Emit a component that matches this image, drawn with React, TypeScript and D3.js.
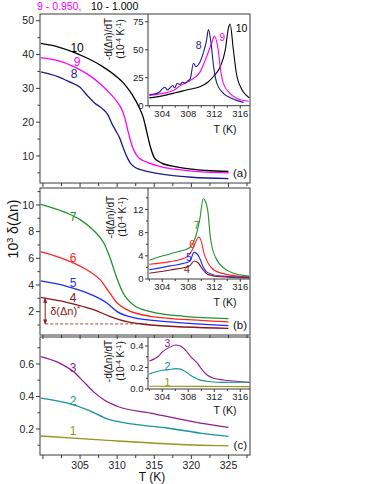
import * as d3 from 'd3';

type Pt = [number, number];

// legend line at the top (partly cut off in the figure)
const legendText = ['9 - 0.950,', '10 - 1.000'];
const legendColors = ['#ff00ff', '#000000'];

const xTickLabels = [305, 310, 315, 320, 325];
const insetTickLabels = [304, 308, 312, 316];

// panel (a): 10^3 delta(dn) vs T
const a10: Pt[] = [[299.7, 43.3], [302, 42.3], [304, 40.8], [306, 38.9], [308, 36.5], [310, 33.3], [311, 31.2], [312, 28.2], [313, 24.2], [313.5, 21.5], [314, 17], [314.5, 12.5], [315, 9.5], [315.5, 8.5], [316, 7.9], [318, 6.8], [320, 6.1], [322, 5.7], [325, 5.4]];
const a9: Pt[] = [[299.7, 39.1], [302, 38.2], [304, 36.6], [306, 34.2], [308, 30.8], [309, 28.6], [310, 26], [310.5, 24.3], [311, 21.5], [311.5, 17], [312, 13], [312.5, 10.6], [313, 9.3], [314, 8.2], [316, 6.8], [318, 6], [320, 5.5], [322, 5.2], [325, 5.0]];
const a8: Pt[] = [[299.7, 34.9], [302, 33.5], [303.5, 32], [305, 30.3], [306, 27.8], [307, 25.6], [308, 24], [308.8, 22], [309.3, 19.5], [309.8, 17.5], [310.3, 15.5], [310.8, 12.5], [311.3, 9.8], [311.8, 7.8], [312.5, 6.5], [313.5, 5.7], [315, 5], [317, 4.3], [320, 3.7], [325, 3.3]];

// inset (a): -d(dn)/dT
const ia10: Pt[] = [[302, 7], [304, 8.8], [306, 11.5], [308, 14.5], [309.8, 17], [311, 21], [312, 27], [312.9, 34.6], [313.7, 50], [314.2, 70], [314.45, 73], [314.9, 52], [315.4, 29], [316.2, 15], [317, 9], [317.4, 7]];
const ia9: Pt[] = [[302, 9], [304, 11], [305.7, 13.5], [306.8, 18], [308.3, 22.6], [309.8, 30], [310.8, 43.6], [311.6, 56], [312, 62], [312.6, 50], [312.9, 35], [313.4, 20], [314.4, 11], [315.7, 6], [317.3, 4]];
const ia8: Pt[] = [[302, 10], [302.8, 10.5], [303.5, 12], [304, 15], [304.4, 16.5], [304.8, 14], [305.2, 16], [305.6, 18], [305.9, 16], [306.3, 20], [306.7, 19], [307.1, 21], [307.5, 20], [307.9, 22], [308.3, 24], [308.8, 38], [309.2, 35], [309.8, 39], [310.3, 47], [310.8, 58], [311.1, 68], [311.5, 56], [311.9, 35], [312.4, 20], [313.4, 11], [314.9, 6], [316.5, 3]];

// panel (b)
const b7: Pt[] = [[299.7, 10.05], [303.2, 9.4], [305, 8.9], [306.8, 8.1], [308.2, 7.15], [309, 6.1], [309.9, 4.6], [310.8, 3.4], [312.2, 2.5], [314.5, 2.0], [319, 1.65], [325, 1.48]];
const b6: Pt[] = [[299.7, 6.5], [303.2, 5.86], [306, 5.1], [307.7, 4.4], [309, 3.4], [310, 2.65], [311.3, 2.15], [314.5, 1.65], [321.2, 1.35], [325, 1.24]];
const b5: Pt[] = [[299.7, 4.3], [303.2, 3.9], [306.4, 3.3], [308.6, 2.65], [310, 2.0], [312.2, 1.55], [316.7, 1.25], [325, 0.95]];
const b4: Pt[] = [[299.7, 3.07], [303.2, 2.7], [306.8, 2.15], [309, 1.65], [311.3, 1.25], [314.5, 1.0], [325, 0.75]];
const deltaStar = { t0: 300.3, t1: 314, top: 3.0, base: 1.08 };

// inset (b)
const ib7: Pt[] = [[302, 3.25], [304.1, 4], [306.1, 4.6], [308.2, 5.4], [309.1, 7.2], [309.8, 10.5], [310.3, 13.9], [310.6, 13.5], [311, 11.8], [311.4, 7.2], [312.2, 3.7], [313.7, 1.7], [315.2, 0.9], [317.4, 0.5]];
const ib6: Pt[] = [[302, 2.55], [305.2, 3.0], [307.6, 3.7], [308.6, 5], [309.1, 6.3], [309.6, 7.2], [310, 6.5], [310.4, 4.5], [310.8, 3.3], [311.5, 2.0], [312.8, 1.1], [317.4, 0.3]];
const ib5: Pt[] = [[302, 1.6], [305.2, 2.26], [308.2, 3.0], [308.9, 4.6], [309.3, 4.4], [309.8, 3.5], [310.2, 2.3], [311, 1.1], [313, 0.5], [317.4, 0.3]];
const ib4: Pt[] = [[302, 1.0], [305.2, 1.56], [308.2, 2.26], [308.9, 3.1], [309.5, 2.8], [310.2, 1.7], [311, 0.8], [313, 0.4], [317.4, 0.2]];

// panel (c)
const c3: Pt[] = [[299.7, 0.645], [302.3, 0.604], [304.1, 0.553], [305.5, 0.49], [306.8, 0.43], [308.2, 0.38], [310, 0.34], [314.5, 0.298], [321.2, 0.236], [325, 0.21]];
const c2: Pt[] = [[299.7, 0.39], [303.2, 0.36], [306, 0.318], [309, 0.257], [312.2, 0.23], [316.7, 0.206], [321.2, 0.175], [325, 0.155]];
const c1: Pt[] = [[299.7, 0.157], [307.7, 0.133], [321.2, 0.1], [325, 0.096]];

// inset (c)
const ic3: Pt[] = [[302, 0.26], [303.3, 0.3], [304.1, 0.35], [305.2, 0.39], [306, 0.41], [306.8, 0.4], [307.6, 0.36], [308.4, 0.3], [309.4, 0.24], [310.1, 0.18], [310.9, 0.13], [311.9, 0.1], [313.4, 0.084], [314.9, 0.074], [317.4, 0.06]];
const ic2: Pt[] = [[302, 0.14], [303.6, 0.17], [305, 0.18], [306.1, 0.19], [306.8, 0.185], [307.6, 0.16], [308.4, 0.125], [309.2, 0.1], [310, 0.08], [311.5, 0.068], [313, 0.062], [317.4, 0.065]];
const ic1: Pt[] = [[302, 0.025], [310, 0.024], [317.4, 0.022]];

const font = '"Liberation Sans", Arial, Helvetica, sans-serif';
const axisColor = '#3a3a3a';

const C = {
  black: '#000000', magenta: '#ff00ff', navy: '#1c1c8c',
  green: '#22922a', red: '#ff2424', blue: '#1f2bff', brown: '#8a1616',
  purple: '#901c90', teal: '#159595', olive: '#96961c',
};

const left = 40;
const right = 250;
const x = d3.scaleLinear().domain([299.6, 327.9]).range([left, right]);
const insetLeft = 148;
const xi = d3.scaleLinear().domain([301.8, 317.5]).range([insetLeft, right]);

type Series = { data: Pt[]; color: string; label: string; at: Pt };
type Panel = {
  name: string; top: number; bottom: number; domain: [number, number];
  ticks: number[]; minor: number[]; fmt: string; series: Series[];
  inset: { bottom: number; domain: [number, number]; ticks: number[]; minor: number[]; fmt: string; series: Series[]; titleY: number; titleX: number; tLabelY: number };
};

const panels: Panel[] = [
  {
    name: '(a)', top: 14, bottom: 183, domain: [2, 52], ticks: [10, 20, 30, 40, 50], minor: [5, 15, 25, 35, 45], fmt: 'd',
    series: [
      { data: a10, color: C.black, label: '10', at: [304.6, 42] },
      { data: a9, color: C.magenta, label: '9', at: [304.6, 37.9] },
      { data: a8, color: C.navy, label: '8', at: [304.2, 34.2] },
    ],
    inset: {
      bottom: 105.7, domain: [0, 82], ticks: [0, 25, 50, 75], minor: [], fmt: 'd', titleY: 39, titleX: 108, tLabelY: 129,
      series: [
        { data: ia10, color: C.black, label: '10', at: [316.2, 69] },
        { data: ia9, color: C.magenta, label: '9', at: [313.2, 61] },
        { data: ia8, color: C.navy, label: '8', at: [309.6, 54] },
      ],
    },
  },
  {
    name: '(b)', top: 188, bottom: 335, domain: [0.25, 11.27], ticks: [2, 4, 6, 8, 10], minor: [1, 3, 5, 7, 9, 11], fmt: 'd',
    series: [
      { data: b7, color: C.green, label: '7', at: [304.05, 9.1] },
      { data: b6, color: C.red, label: '6', at: [304.05, 6.03] },
      { data: b5, color: C.blue, label: '5', at: [304.05, 4.16] },
      { data: b4, color: C.brown, label: '4', at: [304.05, 3.05] },
    ],
    inset: {
      bottom: 279, domain: [0, 15.7], ticks: [0, 4, 8, 12], minor: [2, 6, 10, 14], fmt: 'd', titleY: 217, titleX: 110, tLabelY: 302,
      series: [
        { data: ib7, color: C.green, label: '7', at: [309.3, 9.3] },
        { data: ib6, color: C.red, label: '6', at: [308.6, 6.0] },
        { data: ib5, color: C.blue, label: '5', at: [308.1, 3.8] },
        { data: ib4, color: C.brown, label: '4', at: [307.8, 1.6] },
      ],
    },
  },
  {
    name: '(c)', top: 337, bottom: 455, domain: [0.04, 0.766], ticks: [0.2, 0.4, 0.6], minor: [0.1, 0.3, 0.5, 0.7], fmt: '.1f',
    series: [
      { data: c3, color: C.purple, label: '3', at: [304.05, 0.575] },
      { data: c2, color: C.teal, label: '2', at: [304.05, 0.372] },
      { data: c1, color: C.olive, label: '1', at: [304.05, 0.19] },
    ],
    inset: {
      bottom: 389, domain: [0, 0.484], ticks: [0, 0.2, 0.4], minor: [0.1, 0.3], fmt: '.1f', titleY: 361, titleX: 108, tLabelY: 410,
      series: [
        { data: ic3, color: C.purple, label: '3', at: [304.8, 0.425] },
        { data: ic2, color: C.teal, label: '2', at: [304.8, 0.207] },
        { data: ic1, color: C.olive, label: '1', at: [304.8, 0.059] },
      ],
    },
  },
];

const xMinor = d3.range(300, 327.6, 2.5);
const insetMinor = [302, 306, 310, 314];

function PanelView({ p }: { p: Panel }) {
  const y = d3.scaleLinear().domain(p.domain).range([p.bottom, p.top]);
  const line = d3.line<Pt>().x((d) => x(d[0])).y((d) => y(d[1])).curve(d3.curveMonotoneX);
  const ins = p.inset;
  const yi = d3.scaleLinear().domain(ins.domain).range([ins.bottom, p.top]);
  const iline = d3.line<Pt>().x((d) => xi(d[0])).y((d) => yi(d[1])).curve(d3.curveMonotoneX);
  const fmt = d3.format(p.fmt);
  const ifmt = d3.format(ins.fmt);
  return (
    <g>
      {/* main curves */}
      {p.series.map((s) => (
        <path key={s.label} d={line(s.data) ?? ''} fill="none" stroke={s.color} strokeWidth={1.3} />
      ))}
      {p.series.map((s) => (
        <text key={'l' + s.label} x={x(s.at[0])} y={y(s.at[1])} dy="0.35em" textAnchor="middle" fill={s.color} fontSize={12}>{s.label}</text>
      ))}
      {/* frame */}
      <rect x={left} y={p.top} width={right - left} height={p.bottom - p.top} fill="none" stroke={axisColor} strokeWidth={1} />
      {p.ticks.map((t) => (
        <g key={'yt' + t}>
          <line x1={left - 4} x2={left} y1={y(t)} y2={y(t)} stroke={axisColor} />
          <text x={left - 6} y={y(t)} dy="0.35em" textAnchor="end" fontSize={10.5} fill="#222">{fmt(t)}</text>
        </g>
      ))}
      {p.minor.map((t) => (
        <line key={'ym' + t} x1={left - 2.5} x2={left} y1={y(t)} y2={y(t)} stroke={axisColor} />
      ))}
      {xMinor.map((t) => (
        <line key={'xm' + t} x1={x(t)} x2={x(t)} y1={p.bottom} y2={p.bottom + (t % 5 === 0 ? 4 : 3)} stroke={axisColor} />
      ))}
      <text x={right - 3} y={p.bottom - 10} dy="0.35em" textAnchor="end" fontSize={11.5} fill="#111">{p.name}</text>

      {/* inset */}
      <rect x={insetLeft} y={p.top + 1} width={right - insetLeft - 1} height={ins.bottom - p.top - 1} fill="#fff" />
      {ins.series.map((s) => (
        <path key={'i' + s.label} d={iline(s.data) ?? ''} fill="none" stroke={s.color} strokeWidth={1.1} />
      ))}
      {ins.series.map((s) => (
        <text key={'il' + s.label} x={xi(s.at[0])} y={yi(s.at[1])} dy="0.35em" textAnchor="middle" fill={s.color} fontSize={10.5}>{s.label}</text>
      ))}
      <line x1={insetLeft} x2={insetLeft} y1={p.top} y2={ins.bottom} stroke={axisColor} />
      <line x1={insetLeft} x2={right} y1={ins.bottom} y2={ins.bottom} stroke={axisColor} />
      {ins.ticks.map((t) => (
        <g key={'iyt' + t}>
          <line x1={insetLeft - 3} x2={insetLeft} y1={yi(t)} y2={yi(t)} stroke={axisColor} />
          <text x={insetLeft - 4.5} y={yi(t)} dy="0.35em" textAnchor="end" fontSize={9.5} fill="#222">{ifmt(t)}</text>
        </g>
      ))}
      {ins.minor.map((t) => (
        <line key={'iym' + t} x1={insetLeft - 2} x2={insetLeft} y1={yi(t)} y2={yi(t)} stroke={axisColor} />
      ))}
      {insetTickLabels.map((t) => (
        <g key={'ixt' + t}>
          <line x1={xi(t)} x2={xi(t)} y1={ins.bottom} y2={ins.bottom + 3} stroke={axisColor} />
          <text x={xi(t)} y={ins.bottom + 11} textAnchor="middle" fontSize={9.5} fill="#222">{t}</text>
        </g>
      ))}
      {insetMinor.map((t) => (
        <line key={'ixm' + t} x1={xi(t)} x2={xi(t)} y1={ins.bottom} y2={ins.bottom + 2} stroke={axisColor} />
      ))}
      <text x={225} y={ins.tLabelY} dy="0.35em" textAnchor="middle" fontSize={10.5} fill="#111">T (K)</text>
      <g transform={`translate(${ins.titleX},${ins.titleY}) rotate(-90)`} fontSize={10} fill="#111">
        <text x={0} y={0} dy="0.35em" textAnchor="middle">-d(Δn)/dT</text>
        <text x={0} y={12} dy="0.35em" textAnchor="middle">
          (10<tspan dy={-3} fontSize={7}>-4</tspan><tspan dy={3}> K</tspan><tspan dy={-3} fontSize={7}>-1</tspan><tspan dy={3}>)</tspan>
        </text>
      </g>
    </g>
  );
}

export default function App() {
  const pb = panels[1];
  const yb = d3.scaleLinear().domain(pb.domain).range([pb.bottom, pb.top]);
  const pc = panels[2];
  return (
    <svg width={374} height={484} style={{ position: 'absolute', left: 0, top: 0, background: '#fff' }} fontFamily={font}>
      <defs>
        <marker id="ah" viewBox="0 0 10 10" refX={9} refY={5} markerWidth={5} markerHeight={5} orient="auto-start-reverse">
          <path d="M0,1 L10,5 L0,9 z" fill={C.brown} />
        </marker>
      </defs>
      <rect width={374} height={484} fill="#fff" />
      <text x={37} y={9.5} fontSize={10.5}>
        <tspan fill={legendColors[0]}>{legendText[0]}</tspan>
        <tspan x={91} fill={legendColors[1]}>{legendText[1]}</tspan>
      </text>

      {panels.map((p) => <PanelView key={p.name} p={p} />)}

      {/* delta(dn)* marker in panel (b) */}
      <line x1={x(deltaStar.t0)} x2={x(deltaStar.t1)} y1={yb(deltaStar.base)} y2={yb(deltaStar.base)} stroke={C.brown} strokeWidth={0.8} strokeDasharray="3,2" />
      <line x1={x(deltaStar.t0)} x2={x(deltaStar.t0)} y1={yb(deltaStar.top)} y2={yb(deltaStar.base)} stroke={C.brown} strokeWidth={1} markerStart="url(#ah)" markerEnd="url(#ah)" />
      <text x={x(deltaStar.t0) + 5} y={yb((deltaStar.top + deltaStar.base) / 2) + 4} fontSize={11} fill={C.brown}>
        δ(Δn)<tspan dy={-4} fontSize={8}>*</tspan>
      </text>

      {/* shared x labels */}
      {xTickLabels.map((t) => (
        <text key={t} x={x(t)} y={pc.bottom + 10} dy="0.35em" textAnchor="middle" fontSize={10.5} fill="#222">{t}</text>
      ))}
      <text x={152} y={477} dy="0.35em" textAnchor="middle" fontSize={12} fill="#111">T (K)</text>

      <g transform="translate(13,229) rotate(-90)">
        <text x={0} y={0} dy="0.35em" textAnchor="middle" fontSize={14} fill="#111">
          10<tspan dy={-5} fontSize={9}>3</tspan><tspan dy={5}> δ(Δn)</tspan>
        </text>
      </g>
    </svg>
  );
}
